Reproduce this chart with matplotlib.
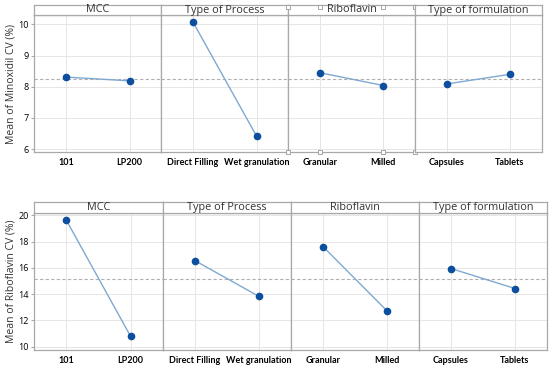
import matplotlib.pyplot as plt

plt.rcParams['font.family'] = ['Open Sans', 'DejaVu Sans']

factors = ['MCC', 'Type of Process', 'Riboflavin', 'Type of formulation']
levels = [['101', 'LP200'], ['Direct Filling', 'Wet granulation'],
          ['Granular', 'Milled'], ['Capsules', 'Tablets']]

minox_means = [[8.31, 8.19], [10.07, 6.42], [8.45, 8.04], [8.09, 8.40]]
minox_grand = 8.25
ribo_means = [[19.62, 10.79], [16.56, 13.83], [17.62, 12.73], [15.95, 14.43]]
ribo_grand = 15.16

line_col = '#7fa9d1'
dot_col = '#0d4f9f'
frame_col = '#a8a8a8'
W, H = 550, 366


def draw_block(fig, means, grand, ylabel, yticks, ylim, xs, top, header_bot, bottom):
    axes = []
    for i in range(4):
        x0, x1 = xs[i], xs[i + 1]
        ax = fig.add_axes([x0 / W, 1 - bottom / H, (x1 - x0) / W, (bottom - header_bot) / H])
        ax.plot([0, 1], means[i], color=line_col, lw=1.0, zorder=3)
        ax.plot([0, 1], means[i], 'o', color=dot_col, ms=4.5, zorder=4)
        ax.axhline(grand, color='#b0b0b0', ls=(0, (3, 2)), lw=0.8, zorder=2)
        ax.set_xlim(-0.5, 1.5)
        ax.set_ylim(*ylim)
        ax.set_yticks(yticks)
        ax.set_xticks([0, 1])
        ax.set_xticklabels(levels[i], fontsize=6.5, fontweight='bold', family='Lato')
        ax.grid(True, color='#e6e6e6', lw=0.7, zorder=0)
        for s in ax.spines.values():
            s.set_color(frame_col)
            s.set_linewidth(0.9)
        ax.tick_params(axis='x', length=0, pad=4)
        if i == 0:
            ax.tick_params(axis='y', length=2.5, labelsize=6.5, color=frame_col, pad=1.5)
        else:
            ax.tick_params(axis='y', length=0, labelleft=False)
        # header strip
        hx = fig.add_axes([x0 / W, 1 - header_bot / H, (x1 - x0) / W, (header_bot - top) / H])
        hx.set_xticks([])
        hx.set_yticks([])
        for s in hx.spines.values():
            s.set_color(frame_col)
            s.set_linewidth(0.9)
        hx.text(0.5, 0.5, factors[i], ha='center', va='center', fontsize=7.8,
                color='#333333', transform=hx.transAxes)
        axes.append((ax, hx))
    fig.text(11 / W, 1 - (header_bot + bottom) / 2 / H, ylabel, rotation=90,
             ha='center', va='center', fontsize=7.5, color='#333333')
    return axes


fig = plt.figure(figsize=(5.5, 3.66), dpi=100)

top_axes = draw_block(fig, minox_means, minox_grand, 'Mean of Minoxidil CV (%)',
                      [6, 7, 8, 9, 10], (5.91, 10.3), [34.3, 161.3, 288.3, 415, 541.7],
                      5, 15, 152)
draw_block(fig, ribo_means, ribo_grand, 'Mean of Riboflavin CV (%)',
           [10, 12, 14, 16, 18, 20], (9.75, 20.2), [34.3, 162.7, 291, 419, 547],
           202, 212.7, 350)

# little selection handles left on the Riboflavin panel of the top chart
rib_ax, rib_hx = top_axes[2]
for fx in [0.0, 0.25, 0.75, 1.0]:
    rib_hx.plot(fx, 0.85, 's', ms=2.5, mfc='white', mec='#999999', mew=0.6,
                transform=rib_hx.transAxes, clip_on=False, zorder=5)
    rib_ax.plot(fx, 0.0, 's', ms=2.5, mfc='white', mec='#999999', mew=0.6,
                transform=rib_ax.transAxes, clip_on=False, zorder=5)

fig.savefig('out.png', dpi=100)
